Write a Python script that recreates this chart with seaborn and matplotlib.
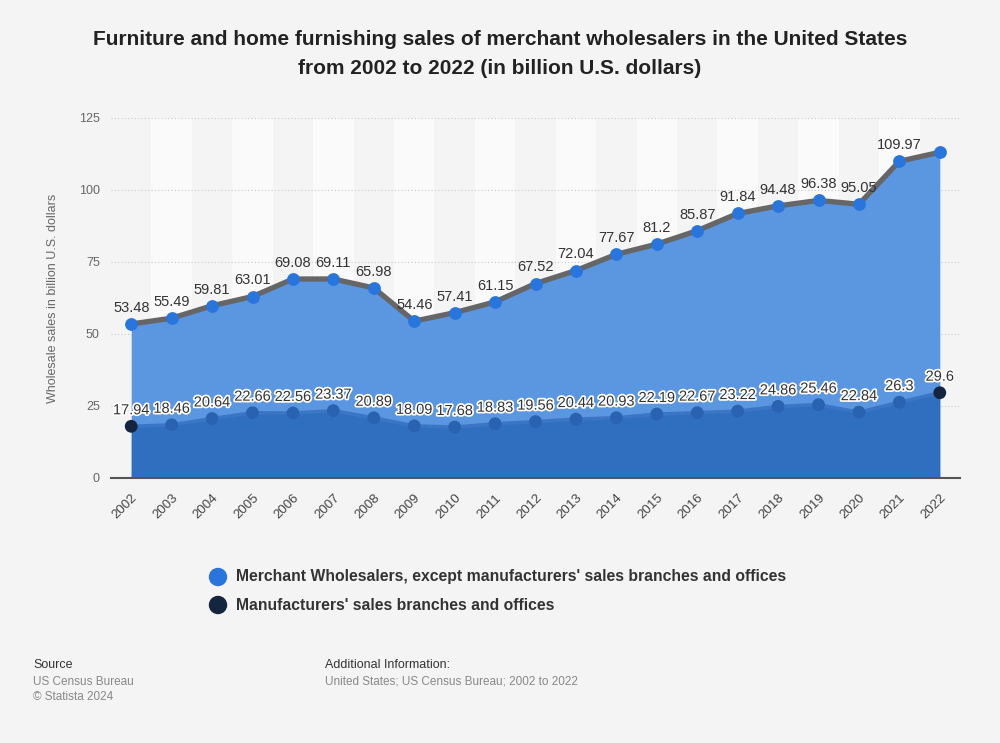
import numpy as np
import pandas as pd
import seaborn as sns
import matplotlib.pyplot as plt
import matplotlib.patheffects as pe
from matplotlib.patches import Ellipse

years = list(range(2002, 2023))
merchant = [53.48, 55.49, 59.81, 63.01, 69.08, 69.11, 65.98, 54.46, 57.41, 61.15, 67.52,
            72.04, 77.67, 81.2, 85.87, 91.84, 94.48, 96.38, 95.05, 109.97, 113.1]
manufacturers = [17.94, 18.46, 20.64, 22.66, 22.56, 23.37, 20.89, 18.09, 17.68, 18.83, 19.56,
                 20.44, 20.93, 22.19, 22.67, 23.22, 24.86, 25.46, 22.84, 26.3, 29.6]
yticks = [0, 25, 50, 75, 100, 125]

df = pd.DataFrame({"idx": np.arange(len(years)), "year": years,
                   "merchant": merchant, "manufacturers": manufacturers})

sns.set_theme(style="white")
plt.rcParams['font.family'] = ['Liberation Sans', 'DejaVu Sans']

bg = "#f4f4f4"
fig = plt.figure(figsize=(10, 7.43), dpi=100, facecolor=bg)
ax = fig.add_axes([0.111, 0.3567, 0.849, 0.4845])
ax.set_facecolor(bg)

# alternating column bands
for i in df["idx"]:
    if i % 2 == 1:
        ax.axvspan(i - 0.5, i + 0.5, color="#fafafa", zorder=0, lw=0)

for t in yticks[1:]:
    ax.axhline(t, color="#c8c8c8", lw=0.8, ls=(0, (1, 2)), zorder=1)

# areas
ax.fill_between(df["idx"], 0, df["merchant"], color="#5b96e0", lw=0, zorder=2)
ax.fill_between(df["idx"], 0, df["manufacturers"], color="#306fc0", lw=0, zorder=3)
sns.lineplot(data=df, x="idx", y="manufacturers", color="#3b76c6", lw=2.5, ax=ax, zorder=3)

# merchant line and markers
sns.lineplot(data=df, x="idx", y="merchant", color="#666666", lw=3.8, ax=ax, zorder=4)
sns.scatterplot(data=df, x="idx", y="merchant", color="#2876dd", s=85, linewidth=0, ax=ax, zorder=5)

# manufacturers markers (ends darker)
mcol = ["#14253f" if i in (0, len(years) - 1) else "#2a62b2" for i in df["idx"]]
ax.scatter(df["idx"], df["manufacturers"], c=mcol, s=85, linewidths=0, zorder=5)

for i, v in zip(df["idx"], df["merchant"]):
    if i == len(years) - 1:
        continue
    ax.annotate(f"{v:g}", (i, v), xytext=(0, 6.5), textcoords="offset points",
                ha="center", va="bottom", fontsize=10.5, color="#333333", zorder=6)
for i, v in zip(df["idx"], df["manufacturers"]):
    ax.annotate(f"{v:g}", (i, v), xytext=(0, 6.5), textcoords="offset points",
                ha="center", va="bottom", fontsize=10.5, color="#333333", zorder=6,
                path_effects=[pe.withStroke(linewidth=2.5, foreground="white")])

ax.set_xlim(-0.5, len(years) - 0.5)
ax.set_ylim(0, 125)
ax.set_xticks(df["idx"])
ax.set_xticklabels([str(y) for y in years], rotation=45, ha="right", rotation_mode="anchor",
                   fontsize=9.5, color="#444444")
ax.set_yticks(yticks)
ax.set_yticklabels([str(t) for t in yticks], fontsize=9, color="#666666")
ax.tick_params(axis="both", length=0, pad=8)
ax.tick_params(axis="x", pad=10)
ax.set_xlabel("")
ax.set_ylabel("Wholesale sales in billion U.S. dollars", fontsize=9, color="#666666", labelpad=14)
for s in ["top", "right", "left"]:
    ax.spines[s].set_visible(False)
ax.spines["bottom"].set_color("#555555")
ax.spines["bottom"].set_linewidth(1.5)
ax.spines["bottom"].set_zorder(7)

fig.text(0.5, 0.96, "Furniture and home furnishing sales of merchant wholesalers in the United States\n"
         "from 2002 to 2022 (in billion U.S. dollars)", ha="center", va="top",
         fontsize=15, fontweight="bold", color="#222222", linespacing=1.7)

# legend
legend_items = [("Merchant Wholesalers, except manufacturers' sales branches and offices", "#2876dd", 577),
                ("Manufacturers' sales branches and offices", "#14253f", 605)]
for label, cc, ypix in legend_items:
    yy = 1 - ypix / 743
    fig.patches.append(Ellipse((0.218, yy), 0.017, 0.017 * 1000 / 743, transform=fig.transFigure,
                               color=cc, figure=fig))
    fig.text(0.236, yy, label, va="center", fontsize=11.3, fontweight="bold", color="#333333")

fig.text(0.033, 1 - 665 / 743, "Source", fontsize=9, color="#333333", va="center")
fig.text(0.033, 1 - 682 / 743, "US Census Bureau", fontsize=8.5, color="#888888", va="center")
fig.text(0.033, 1 - 697 / 743, "© Statista 2024", fontsize=8.5, color="#888888", va="center")
fig.text(0.325, 1 - 665 / 743, "Additional Information:", fontsize=9, color="#333333", va="center")
fig.text(0.325, 1 - 682 / 743, "United States; US Census Bureau; 2002 to 2022", fontsize=8.5,
         color="#888888", va="center")

fig.savefig("out.png", dpi=100, facecolor=bg)
